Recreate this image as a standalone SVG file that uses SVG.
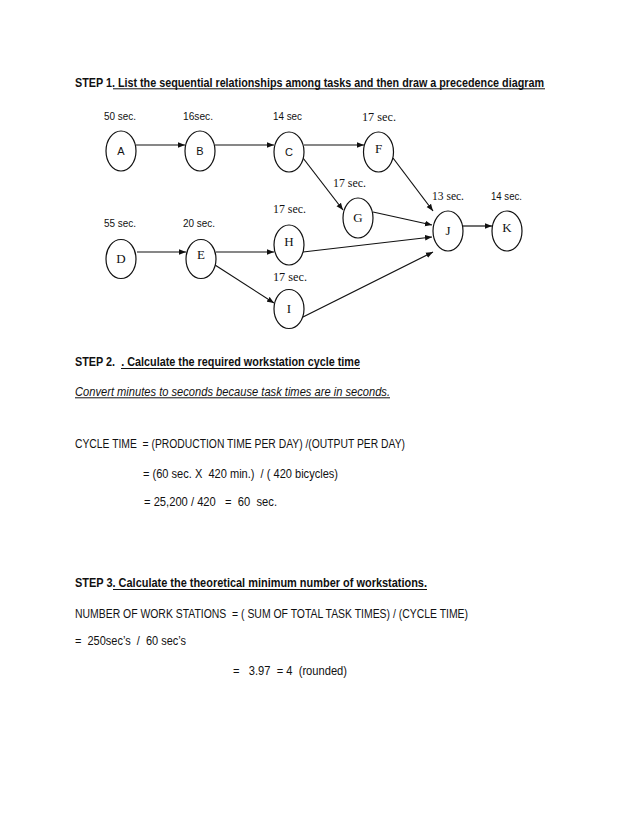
<svg xmlns="http://www.w3.org/2000/svg" width="638" height="826" viewBox="0 0 638 826">
<style>
text{white-space:pre}
.s{font-family:"Liberation Sans",Arial,sans-serif;font-size:12.5px;fill:#111}
.b{font-weight:bold}
.i{font-style:italic}
.lbl{font-family:"Liberation Sans",Arial,sans-serif;font-size:11px;fill:#111}
.sf{font-family:"Liberation Serif","Times New Roman",serif;font-size:13px;fill:#111}
.nd{fill:#fff;stroke:#111;stroke-width:1.2}
.ul{stroke:#111;stroke-width:1}
.cn line{stroke:#111;stroke-width:1.2;marker-end:url(#ah)}
</style>
<defs>
<marker id="ah" viewBox="0 0 10 10" refX="10" refY="5" markerWidth="7" markerHeight="7" markerUnits="userSpaceOnUse" orient="auto">
<path d="M0,1 L10,5 L0,9 z" fill="#111"/>
</marker>
</defs>
<rect width="638" height="826" fill="#fff"/>

<g id="heading1">
<text class="s b" x="75" y="86.5" textLength="469" lengthAdjust="spacingAndGlyphs">STEP 1. List the sequential relationships among tasks and then draw a precedence diagram</text>
<line class="ul" x1="113" y1="88.8" x2="545" y2="88.8"/>
</g>

<g class="cn" id="connectors">
<line x1="136" y1="145" x2="185" y2="145"/>
<line x1="215" y1="145" x2="274" y2="145"/>
<line x1="304" y1="145" x2="364" y2="145"/>
<line x1="303" y1="158" x2="343" y2="210"/>
<line x1="393" y1="158" x2="433" y2="211"/>
<line x1="373" y1="212" x2="432" y2="225"/>
<line x1="303" y1="252" x2="432" y2="237"/>
<line x1="303" y1="317" x2="433" y2="252"/>
<line x1="463" y1="226" x2="492" y2="226"/>
<line x1="137" y1="252" x2="186" y2="252"/>
<line x1="216" y1="252" x2="274" y2="252"/>
<line x1="215" y1="265" x2="274" y2="303"/>
</g>

<g id="nodeA"><ellipse class="nd" cx="121" cy="151" rx="15" ry="20"/><text class="lbl" x="121" y="155" text-anchor="middle" font-size="12">A</text><text class="lbl" x="104" y="120" textLength="32" lengthAdjust="spacingAndGlyphs">50 sec.</text></g>
<g id="nodeB"><ellipse class="nd" cx="200" cy="151" rx="15" ry="20"/><text class="lbl" x="200" y="155" text-anchor="middle" font-size="12">B</text><text class="lbl" x="183" y="120" textLength="30" lengthAdjust="spacingAndGlyphs">16sec.</text></g>
<g id="nodeC"><ellipse class="nd" cx="289" cy="152" rx="15" ry="20"/><text class="lbl" x="289" y="156" text-anchor="middle" font-size="12">C</text><text class="lbl" x="273" y="120" textLength="29" lengthAdjust="spacingAndGlyphs">14 sec</text></g>
<g id="nodeF"><ellipse class="nd" cx="378.5" cy="152" rx="15" ry="20"/><text class="sf" x="378.5" y="153" text-anchor="middle">F</text><text class="sf" x="362" y="121" textLength="34" lengthAdjust="spacingAndGlyphs">17 sec.</text></g>
<g id="nodeG"><ellipse class="nd" cx="358" cy="218" rx="15" ry="20"/><text class="sf" x="358" y="222" text-anchor="middle">G</text><text class="sf" x="333" y="187" textLength="33" lengthAdjust="spacingAndGlyphs">17 sec.</text></g>
<g id="nodeJ"><ellipse class="nd" cx="448" cy="231" rx="15" ry="20"/><text class="sf" x="448" y="235" text-anchor="middle" font-size="12">J</text><text class="sf" x="432" y="200" textLength="32" lengthAdjust="spacingAndGlyphs">13 sec.</text></g>
<g id="nodeK"><ellipse class="nd" cx="507" cy="231" rx="15" ry="20"/><text class="sf" x="507" y="232" text-anchor="middle">K</text><text class="lbl" x="491" y="200" textLength="31" lengthAdjust="spacingAndGlyphs">14 sec.</text></g>
<g id="nodeD"><ellipse class="nd" cx="121" cy="259" rx="15" ry="19.5"/><text class="sf" x="121" y="263" text-anchor="middle">D</text><text class="lbl" x="104" y="227" textLength="32" lengthAdjust="spacingAndGlyphs">55 sec.</text></g>
<g id="nodeE"><ellipse class="nd" cx="201" cy="259" rx="15" ry="19.5"/><text class="sf" x="201" y="259" text-anchor="middle">E</text><text class="lbl" x="183" y="227" textLength="32" lengthAdjust="spacingAndGlyphs">20 sec.</text></g>
<g id="nodeH"><ellipse class="nd" cx="289" cy="245" rx="15" ry="20"/><text class="sf" x="289" y="246" text-anchor="middle">H</text><text class="sf" x="273" y="213" textLength="33" lengthAdjust="spacingAndGlyphs">17 sec.</text></g>
<g id="nodeI"><ellipse class="nd" cx="289" cy="309" rx="15" ry="19.5"/><text class="sf" x="289" y="313" text-anchor="middle">I</text><text class="sf" x="273" y="281" textLength="34" lengthAdjust="spacingAndGlyphs">17 sec.</text></g>

<g id="step2">
<text class="s b" x="75" y="366" textLength="285" lengthAdjust="spacingAndGlyphs">STEP 2.  . Calculate the required workstation cycle time</text>
<line class="ul" x1="121" y1="368.5" x2="360" y2="368.5"/>
<text class="s i" x="75" y="395.5" textLength="315" lengthAdjust="spacingAndGlyphs">Convert minutes to seconds because task times are in seconds.</text>
<line class="ul" x1="75" y1="397.8" x2="390" y2="397.8"/>
<text class="s" x="75" y="448" textLength="330" lengthAdjust="spacingAndGlyphs">CYCLE TIME  = (PRODUCTION TIME PER DAY) /(OUTPUT PER DAY)</text>
<text class="s" x="143" y="478" textLength="195" lengthAdjust="spacingAndGlyphs">= (60 sec. X  420 min.)  / ( 420 bicycles)</text>
<text class="s" x="144" y="506" textLength="133" lengthAdjust="spacingAndGlyphs">= 25,200 / 420   =  60  sec.</text>
</g>

<g id="step3">
<text class="s b" x="75" y="587" textLength="352" lengthAdjust="spacingAndGlyphs">STEP 3. Calculate the theoretical minimum number of workstations.</text>
<line class="ul" x1="113" y1="589.5" x2="427" y2="589.5"/>
<text class="s" x="75" y="618" textLength="393" lengthAdjust="spacingAndGlyphs">NUMBER OF WORK STATIONS  = ( SUM OF TOTAL TASK TIMES) / (CYCLE TIME)</text>
<text class="s" x="75" y="645" textLength="111" lengthAdjust="spacingAndGlyphs">=  250sec’s  /  60 sec’s</text>
<text class="s" x="233" y="675" textLength="114" lengthAdjust="spacingAndGlyphs">=   3.97  = 4  (rounded)</text>
</g>
</svg>
